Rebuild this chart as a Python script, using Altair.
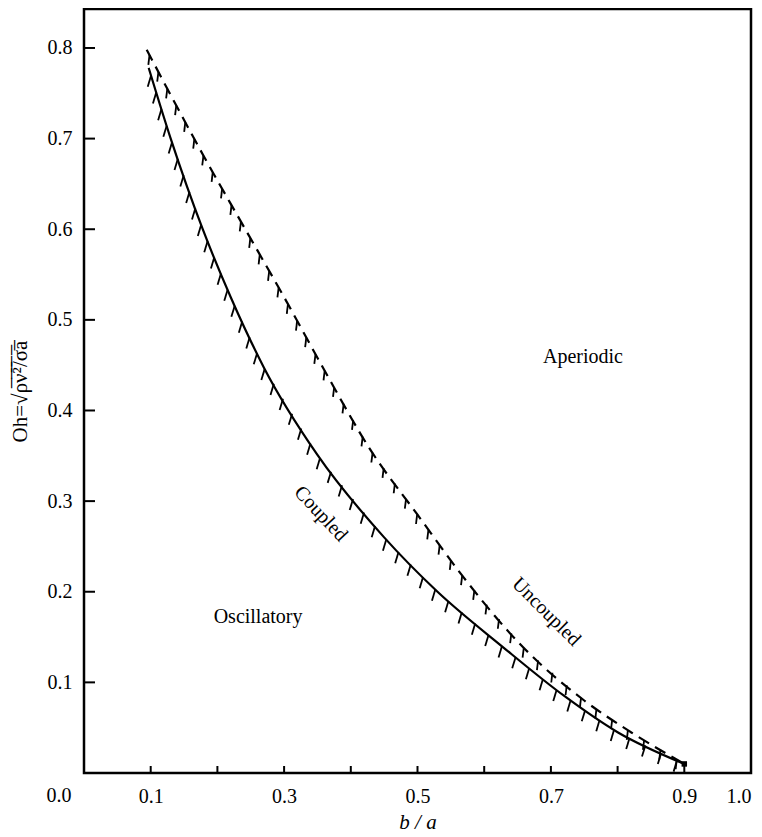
import altair as alt
import numpy as np
import pandas as pd

# ---- data ----
coupled_x = [0.097, 0.13, 0.178, 0.22, 0.27, 0.35, 0.45, 0.53, 0.628, 0.72, 0.80, 0.90]
coupled_y = [0.778, 0.70, 0.600, 0.525, 0.447, 0.351, 0.26, 0.20, 0.139, 0.085, 0.045, 0.010]
uncoupled_x = [0.094, 0.13, 0.18, 0.234, 0.30, 0.36, 0.429, 0.50, 0.57, 0.658, 0.75, 0.82, 0.90]
uncoupled_y = [0.798, 0.748, 0.68, 0.610, 0.525, 0.445, 0.357, 0.285, 0.215, 0.139, 0.080, 0.045, 0.010]

x_tick_values = [0.1, 0.2, 0.3, 0.4, 0.5, 0.6, 0.7, 0.8, 0.9]
y_tick_values = [0.1, 0.2, 0.3, 0.4, 0.5, 0.6, 0.7, 0.8]
x_label_values = [0.1, 0.3, 0.5, 0.7, 0.9, 1.0]

label_text = ["Aperiodic", "Oscillatory", "Coupled", "Uncoupled"]
label_x = [0.748, 0.261, 0.355, 0.693]
label_y = [0.459, 0.172, 0.286, 0.178]
label_angle = [0, 0, 47, 45]

# ---- layout ----
W, H = 667, 764
YMAX = 0.843
FONT = "Liberation Serif"
Y_TITLE = "Oh=\u221a\u03c1\u0305\u03bd\u0305\u00b2\u0305/\u0305\u03c3\u0305a\u0305"
DASH, GAP = 12, 7

xscale = alt.Scale(domain=[0, 1], nice=False, zero=False)
yscale = alt.Scale(domain=[0, YMAX], nice=False, zero=False)

x_axis = alt.Axis(values=x_label_values, format=".1f", tickSize=0, domain=False,
                  grid=False, labelPadding=13, labelFontSize=20, labelFont=FONT,
                  titleFont=FONT, titleFontSize=21, titleFontStyle="italic",
                  titleFontWeight="normal", titlePadding=5, labelColor="black",
                  titleColor="black")
y_axis = alt.Axis(values=y_tick_values, format=".1f", tickSize=0, domain=False,
                  grid=False, labelPadding=12, labelFontSize=20, labelFont=FONT,
                  titleFont=FONT, titleFontSize=21, titleFontWeight="normal",
                  titlePadding=17, labelColor="black", titleColor="black")


def X():
    return alt.X("x:Q", scale=xscale, axis=x_axis, title="b / a")


def Y():
    return alt.Y("y:Q", scale=yscale, axis=y_axis, title=Y_TITLE)


def hatch_positions(xs, ys, start, spacing):
    xs = np.asarray(xs, float)
    ys = np.asarray(ys, float)
    px = xs * W
    py = ys / YMAX * H
    s = np.concatenate([[0.0], np.cumsum(np.hypot(np.diff(px), np.diff(py)))])
    t = np.arange(start, s[-1], spacing)
    return np.interp(t, s, xs), np.interp(t, s, ys)


cx_h, cy_h = hatch_positions(coupled_x, coupled_y, 8.0, 17.5)
ux_h, uy_h = hatch_positions(uncoupled_x, uncoupled_y, DASH * 0.5, DASH + GAP)

coupled = pd.DataFrame({"x": coupled_x, "y": coupled_y})
uncoupled = pd.DataFrame({"x": uncoupled_x, "y": uncoupled_y})
c_hatch = pd.DataFrame({"x": cx_h, "y": cy_h})
u_hatch = pd.DataFrame({"x": ux_h, "y": uy_h})
labels = pd.DataFrame({"t": label_text, "x": label_x, "y": label_y, "a": label_angle})

zero_label = alt.Chart(pd.DataFrame({"x": [0.0], "t": ["0.0"]})).mark_text(
    font=FONT, fontSize=20, baseline="top", dx=-25, color="black"
).encode(x=X(), y=alt.value(H + 13), text="t:N")

xticks = alt.Chart(pd.DataFrame({"x": x_tick_values})).mark_rule(
    color="black", strokeWidth=2
).encode(x=X(), y=alt.value(H), y2=alt.value(H - 7))

yticks = alt.Chart(pd.DataFrame({"y": y_tick_values})).mark_rule(
    color="black", strokeWidth=2
).encode(y=Y(), x=alt.value(0), x2=alt.value(11))

c_line = alt.Chart(coupled).mark_line(
    color="black", strokeWidth=2.2, interpolate="monotone"
).encode(x=X(), y=Y())

u_line = alt.Chart(uncoupled).mark_line(
    color="black", strokeWidth=2.2, interpolate="monotone", strokeDash=[DASH, GAP]
).encode(x=X(), y=Y())

c_h = alt.Chart(c_hatch).mark_point(
    shape="M0,0L-0.3,1", filled=False, color="black", strokeWidth=1.8, size=500, opacity=1
).encode(x=X(), y=Y())

u_h = alt.Chart(u_hatch).mark_point(
    shape="M0,0L-0.12,1", filled=False, color="black", strokeWidth=1.8, size=380, opacity=1
).encode(x=X(), y=Y())

end_pt = alt.Chart(pd.DataFrame({"x": [coupled_x[-1]], "y": [coupled_y[-1]]})).mark_point(
    shape="square", filled=True, color="black", size=30, opacity=1
).encode(x=X(), y=Y())

text = alt.Chart(labels).mark_text(font=FONT, fontSize=20, color="black").encode(
    x=X(), y=Y(), text="t:N", angle=alt.Angle("a:Q", scale=None)
)

chart = alt.layer(xticks, yticks, u_line, u_h, c_line, c_h, end_pt, text, zero_label).properties(
    width=W, height=H,
    autosize=alt.AutoSizeParams(type="none"),
    padding={"left": 76, "top": 1, "right": 2, "bottom": 64},
    background="white",
).configure_view(stroke="black", strokeWidth=2.5)

chart.save("out.html", embed_options={"renderer": "svg", "actions": False})
